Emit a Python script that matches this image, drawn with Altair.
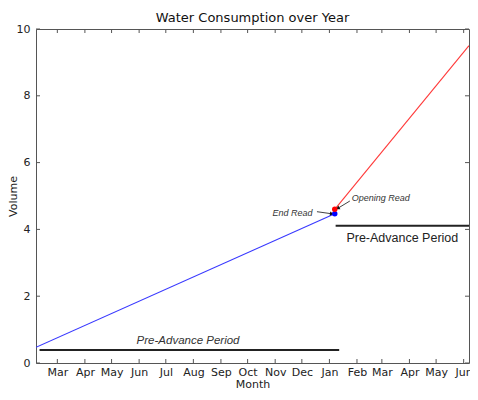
import altair as alt
import pandas as pd

# ---- data ----
blue_dates = ["2013-02-05T00:00:00", "2014-01-07T00:00:00"]
blue_vals = [0.47, 4.47]
red_dates = ["2014-01-07T00:00:00", "2014-06-07T00:00:00"]
red_vals = [4.6, 9.5]
period1_dates = ["2013-02-09T00:00:00", "2014-01-12T00:00:00"]
period1_vals = [0.39, 0.39]
period2_dates = ["2014-01-08T00:00:00", "2014-06-07T00:00:00"]
period2_vals = [4.11, 4.11]
end_read = ("2014-01-07T00:00:00", 4.47)
open_read = ("2014-01-07T00:00:00", 4.6)
month_ticks = ["2013-%02d-01T00:00:00" % m for m in range(3, 13)] + \
              ["2014-%02d-01T00:00:00" % m for m in range(1, 7)]
y_ticks = [0, 2, 4, 6, 8, 10]

labels_text = ["Pre-Advance Period", "Pre-Advance Period", "End Read", "Opening Read"]
labels_date = ["2013-07-26T00:00:00", "2014-03-24T00:00:00", "2013-12-13T00:00:00", "2014-01-26T00:00:00"]
labels_val = [0.65, 3.73, 4.5, 4.94]

arrow_tail_date = ["2013-12-18T00:00:00", "2014-01-24T00:00:00"]
arrow_tail_val = [4.53, 4.85]
arrow_head_date = ["2014-01-03T00:00:00", "2014-01-11T00:00:00"]
arrow_head_val = [4.47, 4.64]
arrow_angle = [98, 240]

W, H = 433, 334
FONT = "DejaVu Sans"
AFONT = "Liberation Sans"

xs = alt.Scale(nice=False)
ys = alt.Scale(domain=[0, 10], nice=False)

def line_layer(dates, vals, color, width):
    df = pd.DataFrame({"date": dates, "v": vals})
    return alt.Chart(df).mark_line(color=color, strokeWidth=width, clip=True).encode(
        x=alt.X("date:T", scale=xs, title="Month",
                axis=alt.Axis(format="%b", tickCount="month", labelPadding=3,
                              titlePadding=1, labelFlush=False, labelOverlap=False)),
        y=alt.Y("v:Q", scale=ys, title="Volume",
                axis=alt.Axis(values=y_ticks, labelPadding=6, titleX=-23,
                              titleBaseline="middle")),
    )

blue = line_layer(blue_dates, blue_vals, "#3838ff", 1.1)
red = line_layer(red_dates, red_vals, "#ff3838", 1.1)
p1 = line_layer(period1_dates, period1_vals, "#222222", 2)
p2 = line_layer(period2_dates, period2_vals, "#222222", 2)

pts = pd.DataFrame({"date": [end_read[0], open_read[0]], "v": [end_read[1], open_read[1]],
                    "c": ["blue", "red"]})
points = alt.Chart(pts).mark_circle(size=30, opacity=1).encode(
    x="date:T", y="v:Q", color=alt.Color("c:N", scale=None))

lab = pd.DataFrame({"t": labels_text, "date": labels_date, "v": labels_val,
                    "i": [0, 1, 2, 3]})
txt_big_it = alt.Chart(lab[lab.i == 0]).mark_text(font=AFONT, fontSize=11.5, fontStyle="italic",
                                                   color="#333").encode(x="date:T", y="v:Q", text="t")
txt_big = alt.Chart(lab[lab.i == 1]).mark_text(font=AFONT, fontSize=12.5,
                                                color="#222").encode(x="date:T", y="v:Q", text="t")
txt_end = alt.Chart(lab[lab.i == 2]).mark_text(font=AFONT, fontSize=9, fontStyle="italic",
                                                align="right", color="#333").encode(x="date:T", y="v:Q", text="t")
txt_open = alt.Chart(lab[lab.i == 3]).mark_text(font=AFONT, fontSize=9, fontStyle="italic",
                                                 align="left", color="#333").encode(x="date:T", y="v:Q", text="t")

arr = pd.DataFrame({"d1": arrow_tail_date, "v1": arrow_tail_val,
                    "d2": arrow_head_date, "v2": arrow_head_val, "a": arrow_angle})
arrow_lines = alt.Chart(arr).mark_rule(color="#111", strokeWidth=0.8).encode(
    x="d1:T", y="v1:Q", x2="d2:T", y2="v2:Q")
arrow_heads = alt.Chart(arr).mark_point(shape="triangle", filled=True, size=18,
                                        color="#111", opacity=1).encode(
    x="d2:T", y="v2:Q", angle=alt.Angle("a:Q", scale=None))

mt = pd.DataFrame({"date": month_ticks})
tick_bottom = alt.Chart(mt).mark_rule(color="#555").encode(
    x="date:T", y=alt.value(H), y2=alt.value(H - 4))
tick_top = alt.Chart(mt).mark_rule(color="#555").encode(
    x="date:T", y=alt.value(0), y2=alt.value(4))
yt = pd.DataFrame({"v": y_ticks})
tick_left = alt.Chart(yt).mark_rule(color="#555").encode(
    y="v:Q", x=alt.value(0), x2=alt.value(4))
tick_right = alt.Chart(yt).mark_rule(color="#555").encode(
    y="v:Q", x=alt.value(W), x2=alt.value(W - 4))

chart = alt.layer(
    p1, p2, blue, red, tick_bottom, tick_top, tick_left, tick_right,
    arrow_lines, arrow_heads, points, txt_big_it, txt_big, txt_end, txt_open
).properties(
    width=W, height=H,
    title=alt.TitleParams("Water Consumption over Year", font=FONT, fontSize=13,
                          fontWeight="normal", color="#111", offset=-2),
    autosize=alt.AutoSizeParams(type="none"),
    padding={"left": 28, "top": 21, "right": 1, "bottom": 29},
).configure_view(
    stroke="#555", strokeWidth=1
).configure_axis(
    domain=False, ticks=False, grid=False,
    labelFont=FONT, labelFontSize=11, labelColor="#222",
    titleFont=FONT, titleFontSize=11, titleFontWeight="normal", titleColor="#222",
)

chart.save("out.html", embed_options={"renderer": "svg", "actions": False})
